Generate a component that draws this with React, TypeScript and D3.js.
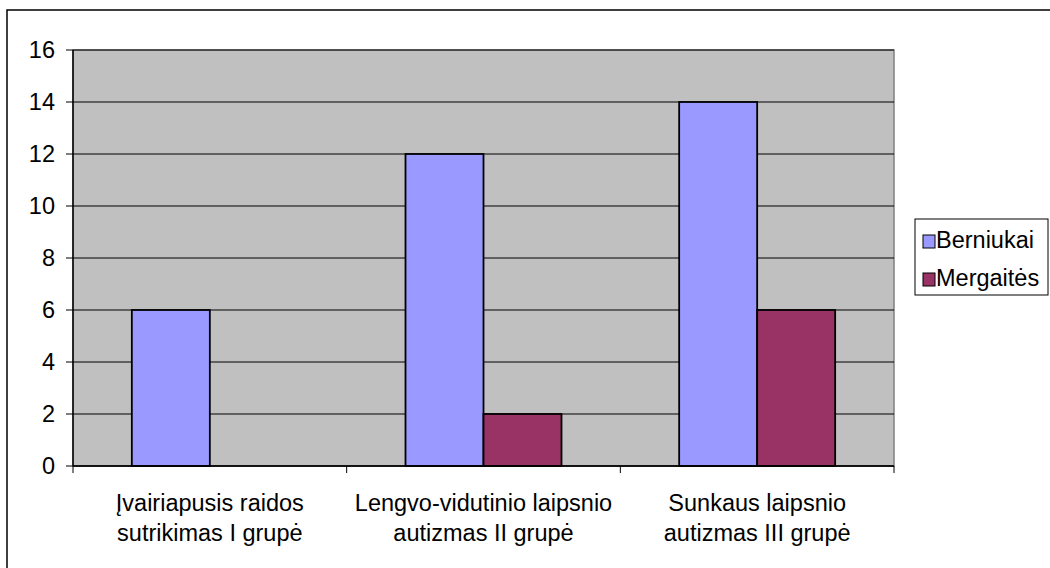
import React from "react";
import * as d3 from "d3";

const categories: string[][] = [
  ["Įvairiapusis raidos", "sutrikimas I grupė"],
  ["Lengvo-vidutinio laipsnio", "autizmas II grupė"],
  ["Sunkaus laipsnio", "autizmas III grupė"],
];
const seriesNames = ["Berniukai", "Mergaitės"];
const berniukai = [6, 12, 14];
const mergaites = [0, 2, 6];
const yTicks = [0, 2, 4, 6, 8, 10, 12, 14, 16];
const colors = ["#9999FF", "#993366"];

const W = 1050;
const H = 568;
const plot = { left: 73, right: 894, top: 50, bottom: 466 };
const font = "'Liberation Sans', Arial, sans-serif";
const fs = 23.5;

export default function App() {
  const series = [berniukai, mergaites];
  const x0 = d3
    .scaleBand<number>()
    .domain(categories.map((_, i) => i))
    .range([plot.left, plot.right])
    .padding(0);
  const groupW = 156;
  const x1 = d3
    .scaleBand<number>()
    .domain(series.map((_, i) => i))
    .range([0, groupW])
    .padding(0);
  const y = d3.scaleLinear().domain([0, 16]).range([plot.bottom, plot.top]);
  const bw = x0.bandwidth();
  const groupOffset = (bw - groupW) / 2;

  return (
    <svg
      width={W}
      height={H}
      style={{ position: "absolute", left: 0, top: 0, background: "#fff" }}
      fontFamily={font}
    >
      {/* chart frame */}
      <rect x={7} y={10} width={1100} height={700} fill="#fff" stroke="#000" strokeWidth={1.5} />

      {/* plot area */}
      <rect
        x={plot.left}
        y={plot.top}
        width={plot.right - plot.left}
        height={plot.bottom - plot.top}
        fill="#C0C0C0"
        stroke="#808080"
        strokeWidth={1.5}
      />

      {/* gridlines */}
      {yTicks.map((t) => (
        <line
          key={"g" + t}
          x1={plot.left}
          x2={plot.right}
          y1={y(t)}
          y2={y(t)}
          stroke="#000"
          strokeWidth={1}
        />
      ))}

      {/* bars */}
      {series.map((vals, si) =>
        vals.map((v, ci) =>
          v > 0 ? (
            <rect
              key={`b${si}-${ci}`}
              x={(x0(ci) as number) + groupOffset + (x1(si) as number)}
              y={y(v)}
              width={x1.bandwidth()}
              height={y(0) - y(v)}
              fill={colors[si]}
              stroke="#000"
              strokeWidth={1.8}
            />
          ) : null
        )
      )}

      {/* y axis */}
      <line x1={plot.left} x2={plot.left} y1={plot.top} y2={plot.bottom} stroke="#000" strokeWidth={1.5} />
      {yTicks.map((t) => (
        <g key={"y" + t}>
          <line x1={plot.left - 7} x2={plot.left} y1={y(t)} y2={y(t)} stroke="#000" strokeWidth={1} />
          <text
            x={55}
            y={y(t)}
            dy="0.36em"
            textAnchor="end"
            fontSize={fs}
            fill="#000"
          >
            {t}
          </text>
        </g>
      ))}

      {/* x axis */}
      <line x1={plot.left} x2={plot.right} y1={plot.bottom} y2={plot.bottom} stroke="#000" strokeWidth={1.5} />
      {[...categories.map((_, i) => x0(i) as number), plot.right].map((xv, i) => (
        <line key={"xt" + i} x1={xv} x2={xv} y1={plot.bottom} y2={plot.bottom + 7} stroke="#000" strokeWidth={1} />
      ))}
      {categories.map((lines, i) => (
        <text
          key={"c" + i}
          x={(x0(i) as number) + bw / 2}
          y={511}
          textAnchor="middle"
          fontSize={fs}
          fill="#000"
        >
          {lines.map((ln, li) => (
            <tspan key={li} x={(x0(i) as number) + bw / 2} dy={li === 0 ? 0 : 30}>
              {ln}
            </tspan>
          ))}
        </text>
      ))}

      {/* legend */}
      <rect x={915} y={219} width={133} height={76} fill="#fff" stroke="#000" strokeWidth={1} />
      {seriesNames.map((name, i) => (
        <g key={"l" + i}>
          <rect
            x={923}
            y={235 + i * 38}
            width={12}
            height={13}
            fill={colors[i]}
            stroke="#000"
            strokeWidth={1}
          />
          <text x={936} y={248 + i * 38} fontSize={fs} fill="#000">
            {name}
          </text>
        </g>
      ))}
    </svg>
  );
}
